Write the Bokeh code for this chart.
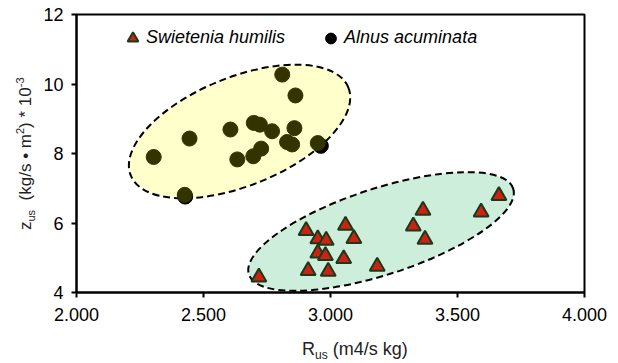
import numpy as np
from bokeh.plotting import figure
from bokeh.layouts import row, column
from bokeh.models import (Range1d, FixedTicker, NumeralTickFormatter, Div,
                          Legend, LegendItem, ColumnDataSource)
from bokeh.embed import file_html
from bokeh.resources import INLINE

# ---------------- data ----------------
swietenia_rus = [2.718, 2.904, 2.950, 2.983, 2.950, 2.980, 2.912, 2.991, 3.059,
                 3.092, 3.052, 3.184, 3.326, 3.364, 3.372, 3.593, 3.663]
swietenia_zus = [4.44, 5.78, 5.54, 5.50, 5.13, 5.06, 4.63, 4.61, 5.93,
                 5.55, 4.97, 4.75, 5.91, 6.36, 5.53, 6.31, 6.79]

alnus_rus = [2.304, 2.426, 2.445, 2.606, 2.633, 2.696, 2.698, 2.722, 2.727,
             2.770, 2.810, 2.829, 2.849, 2.858, 2.862, 2.950]
alnus_zus = [7.90, 6.81, 8.43, 8.69, 7.83, 7.92, 8.88, 8.83, 8.14,
             8.64, 10.27, 8.33, 8.26, 8.73, 9.67, 8.30]

# black points partly hidden under the olive ones
alnus_black_rus = [2.428, 2.962]
alnus_black_zus = [6.76, 8.22]

# group ellipses (centre, full width / height in data units, angle in degrees)
ellipse_cx = [2.642, 3.199]
ellipse_cy = [8.633, 5.755]
ellipse_w = [0.924, 1.094]
ellipse_h = [3.125, 2.48]
ellipse_angle = [22, 18]
ellipse_fill = ["#FFFFCC", "#CCEEDB"]

x_ticks = [2.0, 2.5, 3.0, 3.5, 4.0]
y_ticks = [4, 6, 8, 10, 12]

legend_labels = ["Swietenia humilis", "Alnus acuminata"]

FONT = "Liberation Sans"

# ---------------- figure ----------------
p = figure(width=578, height=330, output_backend="svg", toolbar_location=None,
           x_range=Range1d(2, 4), y_range=Range1d(4, 12),
           min_border_left=36, min_border_right=34, min_border_top=14,
           min_border_bottom=38, margin=0)
p.xgrid.visible = False
p.ygrid.visible = False
p.outline_line_color = "black"
p.outline_line_width = 2
p.outline_line_alpha = 1
p.background_fill_color = "white"
p.border_fill_color = "white"

p.xaxis.ticker = FixedTicker(ticks=x_ticks, minor_ticks=[])
p.yaxis.ticker = FixedTicker(ticks=y_ticks, minor_ticks=[])
p.xaxis.formatter = NumeralTickFormatter(format="0.000")
for ax in (p.xaxis[0], p.yaxis[0]):
    ax.major_label_text_font = FONT
    ax.major_label_text_font_size = "18px"
    ax.major_label_text_color = "black"
    ax.axis_line_color = "black"
    ax.axis_line_width = 2
    ax.major_tick_line_color = "black"
    ax.major_tick_line_width = 2
    ax.major_tick_out = 5
    ax.major_tick_in = 0
    ax.minor_tick_line_color = None
p.xaxis.major_label_standoff = 10
p.yaxis.major_label_standoff = 8

# ellipses
esrc = ColumnDataSource(dict(x=ellipse_cx, y=ellipse_cy, w=ellipse_w, h=ellipse_h,
                             a=ellipse_angle, c=ellipse_fill))
p.ellipse(x="x", y="y", width="w", height="h", angle="a", angle_units="deg",
          fill_color="c", line_color="black", line_width=2, line_dash="7 4",
          source=esrc)

# points
r_black = p.scatter(alnus_black_rus, alnus_black_zus, marker="circle", size=15,
                    fill_color="black", line_color="black")
p.scatter(alnus_rus, alnus_zus, marker="circle", size=15,
          fill_color="#333300", line_color="#333300")
r_tri = p.scatter(swietenia_rus, swietenia_zus, marker="triangle", size=15,
                  fill_color="#CC2211", line_color="#1B3A1B", line_width=2)

legend = Legend(items=[LegendItem(label=legend_labels[0], renderers=[r_tri]),
                       LegendItem(label=legend_labels[1], renderers=[r_black])],
                orientation="horizontal", location=(43, 240.5),
                glyph_width=27, glyph_height=28, label_height=28,
                label_standoff=0, spacing=32,
                padding=0, margin=0, border_line_color=None,
                background_fill_alpha=0,
                label_text_font=FONT, label_text_font_style="italic",
                label_text_font_size="18px", label_text_color="black")
p.add_layout(legend)

# ---------------- axis titles (HTML text with sub/superscripts) ----------------
SUB = "font-size:{s}px;position:relative;top:{t}px"
ytitle_html = (
    "<div style=\"position:relative;left:17px;top:230px;width:200px;"
    "transform:rotate(-90deg);transform-origin:0 0;white-space:nowrap;"
    "font-family:'Liberation Sans';font-size:17px;line-height:17px;color:#222\">"
    "z<span style=\"" + SUB.format(s=11, t=4) + "\">us</span>&nbsp;&nbsp;"
    "(kg/s &bull; m<span style=\"" + SUB.format(s=11, t=-7) + "\">2</span>) * 10"
    "<span style=\"" + SUB.format(s=11, t=-7) + "\">-3</span></div>"
)
xtitle_html = (
    "<div style=\"position:relative;left:262px;top:10px;white-space:nowrap;"
    "font-family:'Liberation Sans';font-size:18px;line-height:18px;color:#222\">"
    "R<span style=\"" + SUB.format(s=12, t=4) + "\">us</span> (m4/s kg)</div>"
)
ydiv = Div(text=ytitle_html, width=40, height=363, margin=0)
xdiv = Div(text=xtitle_html, width=578, height=33, margin=0)

layout = row(ydiv, column(p, xdiv, spacing=0), spacing=0)

open("out.html", "w").write(file_html(layout, INLINE))
